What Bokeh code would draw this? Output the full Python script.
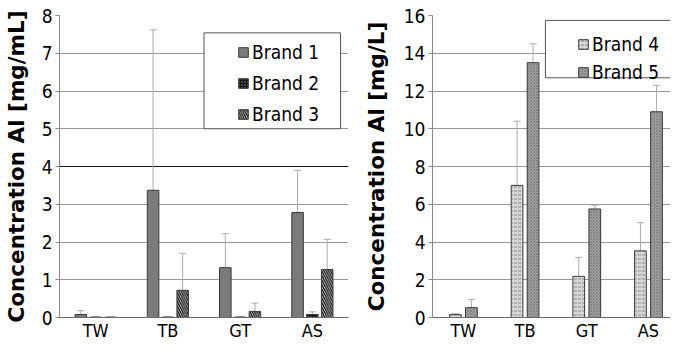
import numpy as np
from bokeh.plotting import figure
from bokeh.models import (ColumnDataSource, Whisker, TeeHead, Legend, LegendItem,
                          BoxAnnotation, Span, FixedTicker, Range1d)
from bokeh.layouts import row
from bokeh.embed import file_html
from bokeh.resources import INLINE

# ---------------- data ----------------
categories = ["TW", "TB", "GT", "AS"]

# left chart, mg/mL
brand1 = [0.08, 3.37, 1.32, 2.78]
brand1_up = [0.18, 7.62, 2.22, 3.90]
brand2 = [0.01, 0.01, 0.01, 0.08]
brand2_up = [0.02, 0.02, 0.03, 0.15]
brand3 = [0.01, 0.72, 0.16, 1.27]
brand3_up = [0.01, 1.70, 0.38, 2.07]
left_ticks = [0, 1, 2, 3, 4, 5, 6, 7, 8]

# right chart, mg/L
brand4 = [0.15, 7.00, 2.18, 3.53]
brand4_up = [0.20, 10.40, 3.18, 5.02]
brand5 = [0.52, 13.50, 5.75, 10.90]
brand5_up = [0.96, 14.50, 5.95, 12.30]
right_ticks = [0, 2, 4, 6, 8, 10, 12, 14, 16]

FONT = "DejaVu Sans Condensed"
LABEL_FONT = "DejaVu Sans"
H = 343


def base_fig(w, xend, ymax, yticks, bl, br, bt, ylabel):
    p = figure(width=w, height=H, x_range=Range1d(-0.5, xend), y_range=Range1d(0, ymax),
               output_backend="svg", toolbar_location=None,
               min_border_left=bl, min_border_right=br, min_border_top=bt, min_border_bottom=0)
    p.outline_line_color = None
    p.background_fill_color = "white"
    p.border_fill_color = "white"
    p.xgrid.visible = False
    p.ygrid.ticker = FixedTicker(ticks=yticks)
    p.ygrid.grid_line_color = "#9a9a9a"
    p.ygrid.grid_line_width = 1
    p.yaxis.ticker = FixedTicker(ticks=yticks)
    p.yaxis.minor_tick_line_color = None
    p.yaxis.minor_tick_out = 0
    p.yaxis.major_tick_in = 0
    p.yaxis.major_tick_out = 4
    p.yaxis.major_tick_line_color = "#8a8a8a"
    p.yaxis.axis_line_color = "#8a8a8a"
    p.yaxis.major_label_text_font = FONT
    p.yaxis.major_label_text_font_size = "19px"
    p.yaxis.major_label_text_color = "black"
    p.yaxis.major_label_standoff = 3
    p.yaxis.axis_label = ylabel
    p.yaxis.axis_label_text_font = LABEL_FONT
    p.yaxis.axis_label_text_font_style = "bold"
    p.yaxis.axis_label_text_font_size = "21.5px"
    p.yaxis.axis_label_text_color = "black"
    p.xaxis.ticker = FixedTicker(ticks=list(range(len(categories))))
    p.xaxis.major_label_overrides = {i: c for i, c in enumerate(categories)}
    p.xaxis.minor_tick_line_color = None
    p.xaxis.minor_tick_out = 0
    p.xaxis.minor_tick_in = 0
    p.xaxis.major_tick_line_color = None
    p.xaxis.major_tick_out = 0
    p.xaxis.major_tick_in = 0
    p.xaxis.axis_line_color = "#6a6a6a"
    p.xaxis.major_label_text_font = FONT
    p.xaxis.major_label_text_font_size = "18px"
    p.xaxis.major_label_text_line_height = 1.0
    p.xaxis.major_label_text_color = "black"
    p.xaxis.major_label_standoff = 2
    p.xaxis.axis_label_standoff = 0
    return p


def add_series(p, offset, width, vals, ups, style):
    xs = np.arange(len(categories)) + offset
    src = ColumnDataSource(dict(x=xs, top=vals, up=ups))
    r = p.vbar(x="x", top="top", width=width, source=src, line_color="#3a3a3a", line_width=1, **style)
    w = Whisker(source=src, base="x", lower="top", upper="up", line_color="#ababab", line_width=1,
                upper_head=TeeHead(size=7, line_color="#ababab", line_width=1), lower_head=None)
    p.add_layout(w)
    return r


# ---------------- left chart ----------------
left = base_fig(358, 3.5, 8, left_ticks, 54, 10, 10, "Concentration Al [mg/mL]")
left.yaxis.axis_label_standoff = 10
left.add_layout(Span(location=4, dimension="width", line_color="#1a1a1a", line_width=1, level="underlay"))

bw = 0.16
step = 0.205
r1 = add_series(left, -step, bw, brand1, brand1_up, dict(fill_color="#7b7b7b"))
r2 = add_series(left, 0.0, bw, brand2, brand2_up,
                dict(fill_color="#161616", hatch_pattern="dot", hatch_color="#8a8a8a", hatch_scale=3, hatch_weight=1))
r3 = add_series(left, step, bw, brand3, brand3_up,
                dict(fill_color="white", hatch_pattern="left_diagonal_line", hatch_color="#111111",
                     hatch_scale=4.5, hatch_weight=1.4))

left.add_layout(BoxAnnotation(left=1.5, right=3.39, top=7.54, bottom=5.0, fill_color="white", fill_alpha=1,
                              line_color="#555555", line_width=1, line_alpha=1))
leg_l = Legend(items=[LegendItem(label="Brand 1", renderers=[r1]),
                      LegendItem(label="Brand 2", renderers=[r2]),
                      LegendItem(label="Brand 3", renderers=[r3])],
               location=(178, 192), padding=0, margin=0, spacing=9, label_height=22,
               glyph_height=12, glyph_width=12, label_standoff=3,
               label_text_font=FONT, label_text_font_size="19px", label_text_color="black",
               border_line_alpha=0, background_fill_alpha=0)
left.add_layout(leg_l)

# ---------------- right chart ----------------
right = base_fig(312, 3.357, 16, right_ticks, 74, 0, 15, "Concentration Al [mg/L]")
right.yaxis.axis_label_standoff = 12

bw2 = 0.19
step2 = 0.13
r4 = add_series(right, -step2, bw2, brand4, brand4_up,
                dict(fill_color="#d6d6d6", hatch_pattern="horizontal_dash", hatch_color="#8c8c8c",
                     hatch_scale=4, hatch_weight=1))
r5 = add_series(right, step2, bw2, brand5, brand5_up,
                dict(fill_color="#a3a3a3", hatch_pattern="diagonal_cross", hatch_color="#7a7a7a",
                     hatch_scale=3, hatch_weight=0.7))

right.add_layout(BoxAnnotation(left=1.33, right=3.9, top=15.74, bottom=12.7, fill_color="white", fill_alpha=1,
                               line_color="#555555", line_width=1, line_alpha=1))
leg_r = Legend(items=[LegendItem(label="Brand 4", renderers=[r4]),
                      LegendItem(label="Brand 5", renderers=[r5])],
               location=(145, 234), padding=0, margin=0, spacing=6, label_height=22,
               glyph_height=12, glyph_width=12, label_standoff=3,
               label_text_font=FONT, label_text_font_size="19px", label_text_color="black",
               border_line_alpha=0, background_fill_alpha=0)
right.add_layout(leg_r)

p = row(left, right)
open("out.html", "w").write(file_html(p, INLINE))
